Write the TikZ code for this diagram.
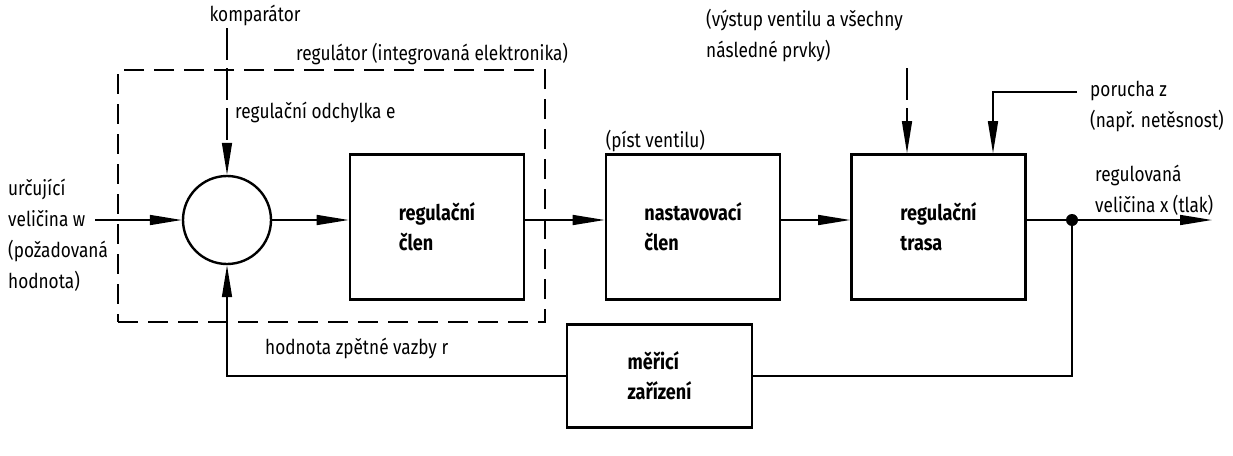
\documentclass[tikz,border=0pt]{standalone}
\usepackage{fontspec}
\setmainfont{Fira Sans}[FakeStretch=0.84]
\usetikzlibrary{positioning,arrows.meta,shapes.geometric}

\begin{document}
\begin{tikzpicture}[
  x=1pt, y=-1pt, font=\fontsize{20.5}{31}\selectfont,
  >={Triangle[length=32pt,width=10pt]},
  blk/.style={rectangle, draw, line width=2.6pt, minimum width=174pt, minimum height=145pt,
    align=left, font=\fontsize{21.5}{30}\selectfont\bfseries},
  sig/.style={line width=1.6pt},
  dsig/.style={line width=1.5pt, dash pattern=on 32pt off 8pt},
  lbl/.style={align=left, inner sep=0pt, anchor=west}
]
\useasboundingbox (0,0) rectangle (1233,455);
% regulator boundary
\node[draw, line width=1.3pt, dash pattern=on 20pt off 10pt, minimum width=427pt, minimum height=252pt, inner sep=0pt]
  (reg) at (331.5,196) {};
\node[lbl] (reglbl) at (296,54) {regulátor (integrovaná elektronika)};
% blocks
\node[circle, draw, line width=2.4pt, minimum size=88pt, inner sep=0pt] (cmp) at (227,220) {};
\node[blk] (rc) at (437,227) {regulační\\člen};
\node[blk] (nc) at (693,227) {nastavovací\\člen};
\node[blk] (rt) at (938.5,227) {regulační\\trasa};
\node[blk, minimum width=185pt, minimum height=103pt] (mz) at (659.5,376) {měřicí\\zařízení};
\node[circle, fill, inner sep=0pt, minimum size=12pt] (dot) at (1072,220) {};
% labels
\node[lbl] (wlbl) at (8,235) {určující\\veličina w\\(požadovaná\\hodnota)};
\node[lbl, anchor=center] (kmp) at (255,15) {komparátor};
\node[lbl] (odch) at (235,112) {regulační odchylka e};
\node[lbl, anchor=south west, inner sep=1pt] (pist) at (nc.north west) {(píst ventilu)};
\node[lbl] (vyst) at (706,36) {(výstup ventilu a všechny\\následné prvky)};
\node[lbl] (por) at (1090,107) {porucha z\\(např. netěsnost)};
\node[lbl, anchor=south west] (xlbl) at (1095,216) {regulovaná\\veličina x (tlak)};
\node[lbl] (rlbl) at (265,348) {hodnota zpětné vazby r};
% signal ends
\coordinate (win) at (95,220);
\coordinate (kt) at (227,28);
\coordinate (vt) at (907,68);
\coordinate (pz) at (1077,92);
\coordinate (pk) at (993,92);
\coordinate (xout) at (1212,220);
% connectors
\draw[sig, ->] (win) -- (cmp.west);
\draw[dsig, ->] (kt) -- (cmp.north);
\draw[sig, ->] (cmp.east) -- (rc.west |- cmp.east);
\draw[sig, ->] (rc.east |- cmp.east) -- (nc.west |- cmp.east);
\draw[sig, ->] (nc.east |- cmp.east) -- (rt.west |- cmp.east);
\draw[sig] (rt.east |- cmp.east) -- (dot);
\draw[sig, ->] (dot) -- (xout);
\draw[dsig, ->] (vt) -- (vt |- rt.north);
\draw[sig, ->] (pz) -- (pk) -- (pk |- rt.north);
\draw[sig] (dot) |- (mz.east);
\draw[sig, ->] (mz.west) -| (cmp.south);
\end{tikzpicture}
\end{document}
